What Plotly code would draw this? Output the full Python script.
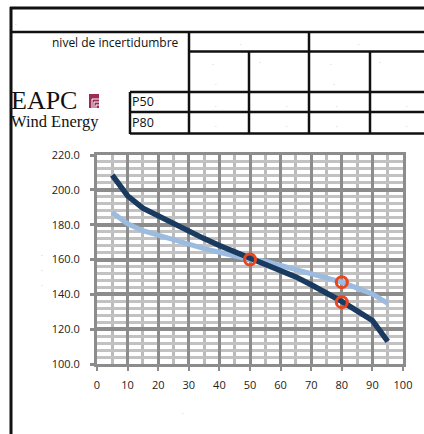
import plotly.graph_objects as go

W, H = 424, 434

# ---- data ----
x_vals = [5, 10, 15, 20, 25, 30, 35, 40, 45, 50, 55, 60, 65, 70, 75, 80, 85, 90, 95]
dark_vals = [208.5, 196.5, 189.5, 185.0, 180.5, 176.0, 172.0, 168.0, 164.5, 160.5,
             157.5, 154.0, 150.0, 145.5, 141.0, 136.0, 130.5, 125.0, 113.0]
light_vals = [187.0, 180.5, 176.5, 173.8, 171.0, 168.7, 166.2, 164.2, 162.3, 160.0,
              159.0, 156.5, 154.0, 151.7, 149.4, 147.0, 143.6, 140.2, 134.8]
mark_x = [50, 80, 80]
mark_y = [160.0, 147.0, 135.5]
x_ticks = [0, 10, 20, 30, 40, 50, 60, 70, 80, 90, 100]
y_ticks = [100, 120, 140, 160, 180, 200, 220]
header_text = "nivel de incertidumbre"
row_labels = ["P50", "P80"]
logo_top = "EAPC"
logo_bottom = "Wind Energy"


def px(x):
    return x / W


def py(y):
    return 1 - y / H


DARK = "#1b3a60"
LIGHT = "#9bbbe0"
RED = "#e8461e"

fig = go.Figure()
fig.add_trace(go.Scatter(x=x_vals, y=light_vals, mode="lines",
                         line=dict(color=LIGHT, width=5), hoverinfo="skip"))
fig.add_trace(go.Scatter(x=x_vals, y=dark_vals, mode="lines",
                         line=dict(color=DARK, width=5.5), hoverinfo="skip"))
fig.add_trace(go.Scatter(x=mark_x, y=mark_y, mode="markers", hoverinfo="skip",
                         marker=dict(symbol="circle-open", size=11, color=RED,
                                     line=dict(color=RED, width=3))))

tickfont = dict(family="Open Sans", size=11, color="#222")
fig.update_xaxes(domain=[px(97), px(403)], range=[0, 100], tickvals=x_ticks,
                 automargin=False,
                 showgrid=True, gridcolor="#8c8c8c", gridwidth=3,
                 minor=dict(dtick=5, tick0=0, showgrid=True, gridcolor="#bcbcbc", gridwidth=3),
                 ticks="outside", ticklen=4, tickwidth=2, tickcolor="#8c8c8c",
                 showline=True, linecolor="#8c8c8c", linewidth=3, mirror=True,
                 zeroline=False, tickfont=tickfont, ticklabelstandoff=5)
fig.update_yaxes(domain=[py(364), py(155)], range=[100, 220], tickvals=y_ticks,
                 tickformat=".1f", automargin=False,
                 showgrid=True, gridcolor="#8c8c8c", gridwidth=4,
                 minor=dict(dtick=4, tick0=100, showgrid=True, gridcolor="#c2c2c2", gridwidth=3),
                 ticks="outside", ticklen=4, tickwidth=3, tickcolor="#8c8c8c",
                 showline=True, linecolor="#8c8c8c", linewidth=3, mirror=True,
                 zeroline=False, tickfont=tickfont, ticklabelstandoff=8)

shapes = []


def hline(y, x0, x1, w=2.5):
    shapes.append(dict(type="line", xref="paper", yref="paper", x0=px(x0), x1=px(x1),
                       y0=py(y), y1=py(y), line=dict(color="#111", width=w)))


def vline(x, y0, y1, w=2.5):
    shapes.append(dict(type="line", xref="paper", yref="paper", x0=px(x), x1=px(x),
                       y0=py(y0), y1=py(y1), line=dict(color="#111", width=w)))


# outer frame
vline(11, 7, 434, 3)
hline(8, 10, 424, 3)
# table
hline(32, 10, 424)
hline(51.5, 189, 424)
hline(92, 130, 424)
hline(112, 130, 424)
hline(133.5, 130, 424)
vline(189, 32, 134)
vline(309, 32, 134)
vline(249, 51.5, 134)
vline(370, 51.5, 134)
vline(130, 92, 134)

# logo icon
shapes.append(dict(type="rect", xref="paper", yref="paper", x0=px(89), x1=px(99),
                   y0=py(108), y1=py(94), fillcolor="#9c2c55", line=dict(width=0)))
for (yy, xx) in [(99, 92), (102, 94), (105, 96)]:
    shapes.append(dict(type="line", xref="paper", yref="paper", x0=px(xx), x1=px(99),
                       y0=py(yy), y1=py(yy), line=dict(color="white", width=1)))
    shapes.append(dict(type="line", xref="paper", yref="paper", x0=px(xx), x1=px(xx),
                       y0=py(yy), y1=py(108), line=dict(color="white", width=1)))

annotations = []


def text(x, y, s, size, family="Open Sans", anchor="left", color="#111"):
    annotations.append(dict(xref="paper", yref="paper", x=px(x), y=py(y), text=s,
                            showarrow=False, xanchor=anchor, yanchor="middle",
                            font=dict(family=family, size=size, color=color)))


text(181, 42, header_text, 12, anchor="right")
text(130, 102, row_labels[0], 12.5)
text(130, 123, row_labels[1], 12.5)
text(9, 100, logo_top, 26, family="Liberation Serif")
text(9, 121, logo_bottom, 16.5, family="Liberation Serif")

# tiny unreadable placeholder marks
dots = [(16, 24), (241, 44), (359, 44), (213, 64), (260, 62), (331, 64), (380, 62),
        (216, 84), (334, 84), (216, 106), (287, 106), (337, 106), (407, 106),
        (216, 126), (287, 126), (337, 126), (407, 126), (42, 255), (42, 270), (42, 285),
        (183, 413)]
for (dx, dy) in dots:
    text(dx, dy, "·", 6, anchor="center", color="#888")

fig.update_layout(template="none", width=W, height=H, autosize=False, showlegend=False,
                  margin=dict(l=0, r=0, t=0, b=0, pad=0, autoexpand=False),
                  paper_bgcolor="white", plot_bgcolor="white",
                  shapes=shapes, annotations=annotations)

fig.write_html("out.html", config={"displayModeBar": False, "responsive": False},
               post_script="document.documentElement.style.margin='0';"
                           "document.documentElement.style.overflow='hidden';"
                           "document.body.style.margin='0';"
                           "document.body.style.padding='0';"
                           "document.body.style.overflow='hidden';")
